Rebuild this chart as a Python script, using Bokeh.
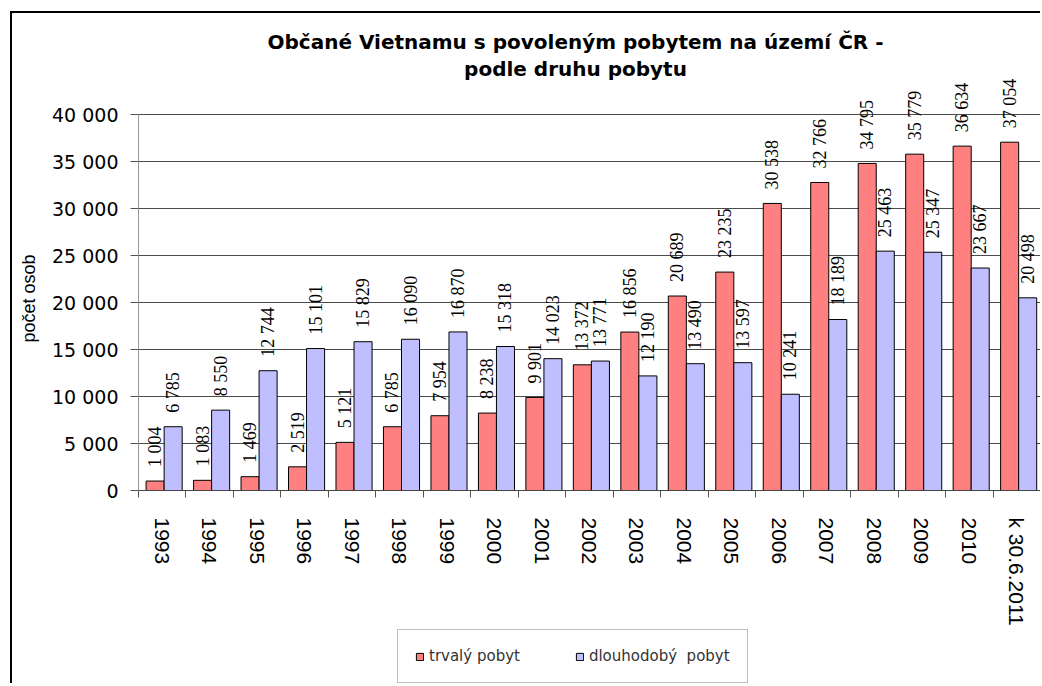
import math
from bokeh.plotting import figure
from bokeh.models import (ColumnDataSource, LabelSet, Label, Legend, LegendItem,
                          FixedTicker, LinearAxis, Range1d)
from bokeh.embed import file_html
from bokeh.resources import INLINE

# ---- data ----
categories = ["1993", "1994", "1995", "1996", "1997", "1998", "1999", "2000",
              "2001", "2002", "2003", "2004", "2005", "2006", "2007", "2008",
              "2009", "2010", "k 30.6.2011"]
trvaly = [1004, 1083, 1469, 2519, 5121, 6785, 7954, 8238, 9901, 13372,
          16856, 20689, 23235, 30538, 32766, 34795, 35779, 36634, 37054]
dlouhodoby = [6785, 8550, 12744, 15101, 15829, 16090, 16870, 15318, 14023,
              13771, 12190, 13490, 13597, 10241, 18189, 25463, 25347, 23667, 20498]
y_ticks = [0, 5000, 10000, 15000, 20000, 25000, 30000, 35000, 40000]
y_tick_labels = ["0", "5 000", "10 000", "15 000", "20 000", "25 000",
                 "30 000", "35 000", "40 000"]
series_names = ["trvalý pobyt", "dlouhodobý  pobyt"]
title_lines = ["Občané Vietnamu s povoleným pobytem na území ČR -",
               "podle druhu pobytu"]
y_label = "počet osob"

RED = "#FF8080"
BLUE = "#BFBFFF"
ROT_FONT = "Liberation Sans"

# ---- layout (pixels inside the figure) ----
W, H = 1030, 672
PX_LEFT = 126                 # x pixel of the value axis
PX_PER_CAT = 902 / 19         # width of one category
PX_Y0 = 477                   # pixel of value 0
PX_PER_UNIT = 376 / 40000     # pixels per person


def X(px):
    return (px - PX_LEFT) / PX_PER_CAT


def Y(py):
    return (PX_Y0 - py) / PX_PER_UNIT


def fmt(v):
    return f"{v:,}".replace(",", " ")


n = len(categories)
idx = list(range(n))
src_r = ColumnDataSource(dict(x=[i + 0.35 for i in idx], top=trvaly,
                              lab=[fmt(v) for v in trvaly]))
src_b = ColumnDataSource(dict(x=[i + 0.73 for i in idx], top=dlouhodoby,
                              lab=[fmt(v) for v in dlouhodoby]))

p = figure(width=W, height=H, output_backend="svg", toolbar_location=None,
           x_range=Range1d(X(0), X(W)), y_range=Range1d(Y(H), Y(0)),
           x_axis_location=None, y_axis_location=None, min_border=0)
p.styles = {"margin-left": "10px", "margin-top": "11px",
            "border-left": "2px solid black", "border-top": "2px solid black"}
p.outline_line_color = None
p.background_fill_color = "white"
p.border_fill_color = "white"
for g in p.grid:
    g.visible = False

# horizontal gridlines (span of the plot area only)
p.segment(x0=[0] * len(y_ticks), x1=[n] * len(y_ticks), y0=y_ticks, y1=y_ticks,
          line_color="#4a4a4a", line_width=1)

rr = p.vbar(x="x", top="top", width=0.38, source=src_r, fill_color=RED,
            line_color="black", line_width=1)
rb = p.vbar(x="x", top="top", width=0.38, source=src_b, fill_color=BLUE,
            line_color="black", line_width=1)

for s in (src_r, src_b):
    p.add_layout(LabelSet(x="x", y="top", text="lab", source=s, angle=math.pi / 2,
                          text_align="left", text_baseline="middle", y_offset=14,
                          text_font=ROT_FONT, text_font_size="18px",
                          text_color="black"))

# y axis
yax = LinearAxis(fixed_location=0, bounds=(y_ticks[0], y_ticks[-1]),
                 ticker=FixedTicker(ticks=y_ticks))
yax.major_label_overrides = {t: l for t, l in zip(y_ticks, y_tick_labels)}
yax.major_label_text_font = "DejaVu Sans"
yax.major_label_text_font_size = "19px"
yax.major_label_text_color = "black"
yax.major_tick_out = 8
yax.major_tick_in = 0
yax.minor_tick_line_color = None
yax.major_tick_line_color = "#555555"
yax.axis_line_color = "#999999"
yax.major_label_standoff = 12
p.add_layout(yax, "left")

# x axis
centers = [i + 0.5 for i in idx]
xax = LinearAxis(fixed_location=0, bounds=(0, n),
                 ticker=FixedTicker(ticks=centers, minor_ticks=list(range(n + 1))))
xax.major_label_overrides = {c: cat for c, cat in zip(centers, categories)}
xax.major_label_orientation = "vertical"
xax.major_label_text_font = ROT_FONT
xax.major_label_text_font_size = "21px"
xax.major_label_text_color = "black"
xax.major_tick_line_color = None
xax.major_tick_out = 0
xax.major_tick_in = 0
xax.minor_tick_out = 7
xax.minor_tick_in = 0
xax.minor_tick_line_color = "#555555"
xax.axis_line_color = "#444444"
xax.major_label_standoff = 20
p.add_layout(xax, "below")

# titles
for line, py in zip(title_lines, (28, 55)):
    p.add_layout(Label(x=X(563), y=Y(py), text=line, text_align="center",
                       text_baseline="alphabetic", text_font="DejaVu Sans",
                       text_font_size="20px", text_font_style="bold",
                       text_color="black"))

# axis title
p.add_layout(Label(x=X(16), y=Y(285), text=y_label, angle=math.pi / 2,
                   text_align="center", text_baseline="middle",
                   text_font=ROT_FONT, text_font_size="18px",
                   text_color="black"))

# legend
legend = Legend(items=[LegendItem(label=series_names[0], renderers=[rr]),
                       LegendItem(label=series_names[1], renderers=[rb])],
                orientation="horizontal", location=(385, 2),
                label_text_font="DejaVu Sans", label_text_font_size="15px",
                label_text_color="#333333", glyph_width=9, glyph_height=9,
                label_standoff=5, spacing=55, padding=17, margin=0,
                border_line_color="#808080", border_line_width=1,
                background_fill_color="white", label_height=18)
p.add_layout(legend)

open("out.html", "w").write(file_html(p, INLINE))
